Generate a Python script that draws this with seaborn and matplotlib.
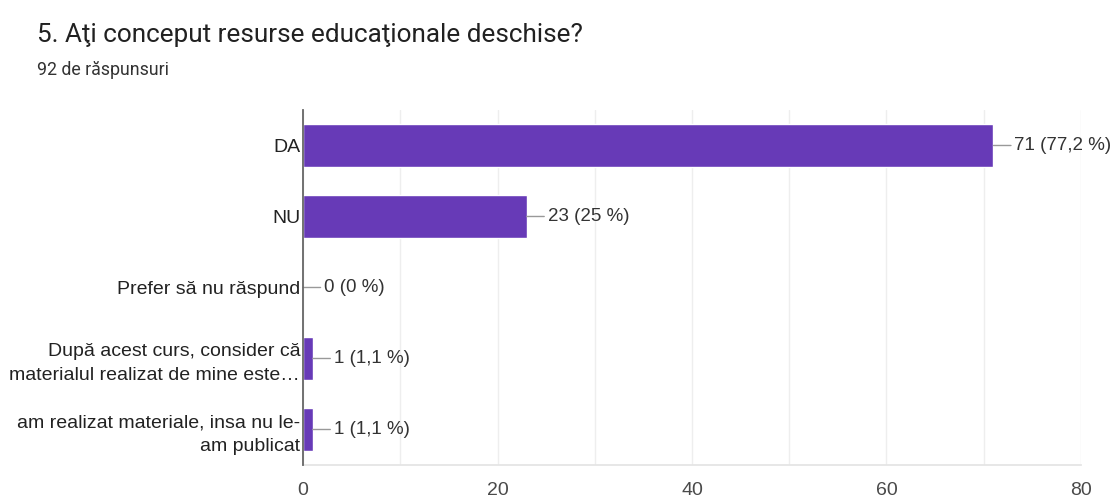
import matplotlib
matplotlib.use("Agg")
import matplotlib.pyplot as plt
import seaborn as sns
import pandas as pd

categories = [
    "DA",
    "NU",
    "Prefer să nu răspund",
    "După acest curs, consider că\nmaterialul realizat de mine este…",
    "am realizat materiale, insa nu le-\nam publicat",
]
counts = [71, 23, 0, 1, 1]
percent_labels = ["77,2 %", "25 %", "0 %", "1,1 %", "1,1 %"]
x_ticks = [0, 20, 40, 60, 80]

title = "5. Aţi conceput resurse educaţionale deschise?"
subtitle = "92 de răspunsuri"

sns.set_theme(style="white")
plt.rcParams["font.family"] = ["Liberation Sans", "DejaVu Sans"]

df = pd.DataFrame({"cat": categories, "n": counts})

fig = plt.figure(figsize=(11.19, 4.97), dpi=100)
ax = fig.add_axes([0.2708, 0.0644, 0.6952, 0.7143])

sns.barplot(data=df, x="n", y="cat", orient="h", color="#673AB7",
            saturation=1, width=0.6, ax=ax, zorder=3)

ax.set_xlim(0, 80)
ax.set_xticks(x_ticks)
ax.set_xticks([10, 30, 50, 70], minor=True)
ax.grid(axis="x", which="both", color="#eeeeee", linewidth=1, zorder=0)
ax.tick_params(axis="x", which="both", length=0, labelsize=14,
               colors="#4a4a4a", pad=12)
ax.tick_params(axis="y", length=0, labelsize=14, colors="#222222", pad=2)
ax.set_xlabel("")
ax.set_ylabel("")
for lbl in ax.get_yticklabels():
    lbl.set_horizontalalignment("right")
    lbl.set_multialignment("right")
    lbl.set_linespacing(1.5)

for side in ("top", "right"):
    ax.spines[side].set_visible(False)
ax.spines["bottom"].set_color("#e4e4e4")
ax.spines["left"].set_color("#666666")
ax.spines["left"].set_linewidth(1.3)
ax.spines["left"].set_zorder(4)

# value labels with a short leader line from the end of each bar
for i, (n, p) in enumerate(zip(counts, percent_labels)):
    ax.annotate(f"{n} ({p})", xy=(n, i), xytext=(15, 0),
                textcoords="offset points", va="center", ha="left",
                fontsize=13.5, color="#333333",
                arrowprops=dict(arrowstyle="-", color="#999999",
                                lw=1.0, shrinkA=0, shrinkB=0))

fig.text(0.033, 0.93, title, fontsize=18.8, color="#212121", va="center",
         family=["Roboto", "DejaVu Sans"])
fig.text(0.033, 0.859, subtitle, fontsize=12.8, color="#333333", va="center",
         family=["Roboto", "DejaVu Sans"])

fig.savefig("out.png", dpi=100, facecolor="white")
